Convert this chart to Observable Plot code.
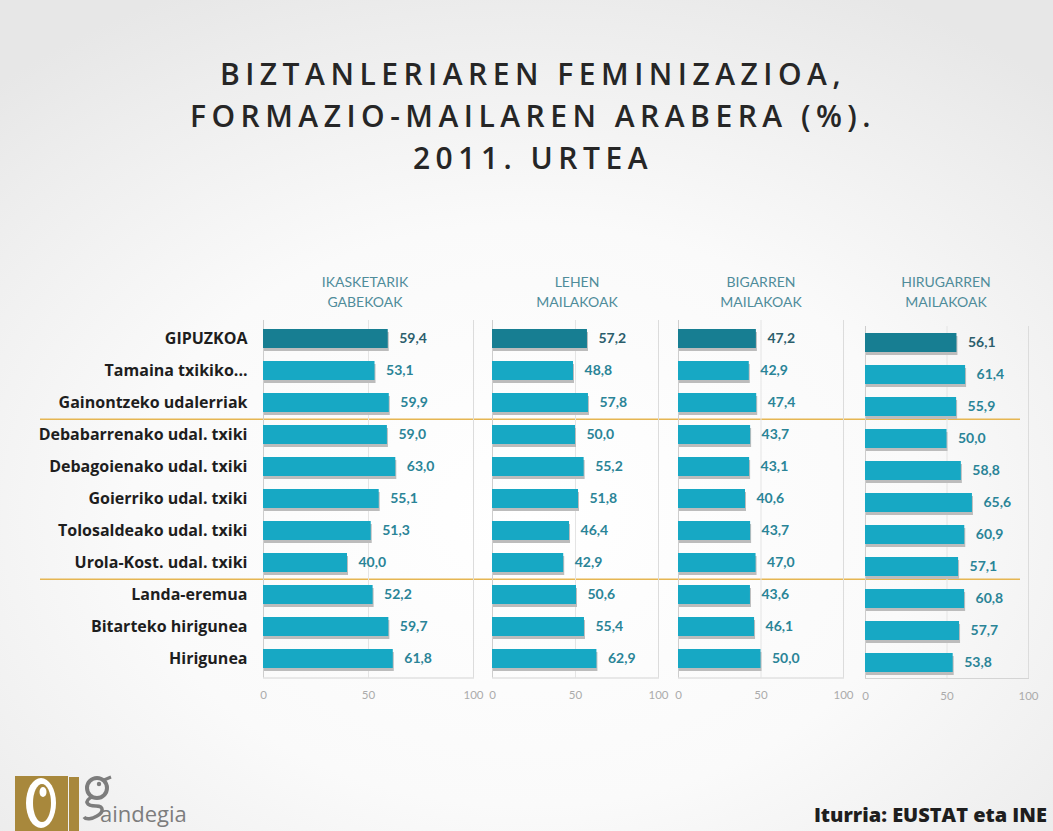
<!DOCTYPE html>
<html>
<head>
<meta charset="utf-8">
<script src="https://cdn.jsdelivr.net/npm/d3@7"></script>
<script src="https://cdn.jsdelivr.net/npm/@observablehq/plot@0.6"></script>
<style>
  html, body { margin: 0; padding: 0; }
  body { width: 1053px; height: 831px; overflow: hidden; }
  #wrap {
    position: relative; width: 1053px; height: 831px; overflow: hidden;
    background: radial-gradient(ellipse 75% 70% at 50% 62%, #ffffff 0%, #fafafa 50%, #ededed 85%, #e7e7e7 100%);
    font-family: "Open Sans", sans-serif;
  }
  #title {
    position: absolute; left: 0; width: 1066px; top: 53px; text-align: center;
    font-family: "Open Sans", sans-serif; font-size: 30px; font-weight: 600;
    letter-spacing: 5.5px; line-height: 42px; color: #262626;
  }
  .hdr {
    position: absolute; top: 272px; width: 200px; text-align: center;
    font-family: Lato, sans-serif; font-size: 14px; line-height: 20px; color: #4f8c9a;
  }
  .panel { position: absolute; top: 300px; }
  .panel svg { overflow: visible; }
  #source {
    position: absolute; right: 6px; top: 801px;
    font-family: "Open Sans", sans-serif; font-weight: 800; font-size: 20px; color: #1e1e1e;
  }
  #logo { position: absolute; left: 0; top: 760px; }
</style>
</head>
<body>
<div id="wrap">
  <div id="title"></div>
  <div id="headers"></div>
  <div id="panels"></div>
  <svg id="logo" width="260" height="71">
    <rect x="15" y="16" width="53" height="55" fill="#a8883c"/>
    <ellipse cx="41" cy="43" rx="15" ry="25" fill="#ffffff"/>
    <ellipse cx="42" cy="43" rx="9" ry="19" fill="#a8883c"/>
    <ellipse cx="43" cy="32" rx="3.5" ry="5" fill="#ffffff"/>
    <rect x="69" y="17" width="10" height="54" fill="#a8883c"/>
    <!-- stylised "g" glyph of the logo -->
    <ellipse cx="97" cy="28" rx="10" ry="10" fill="none" stroke="#7d7d7d" stroke-width="4"/>
    <circle cx="99" cy="24" r="2.2" fill="#7d7d7d"/>
    <path d="M104 20 L111 17" stroke="#7d7d7d" stroke-width="3" fill="none"/>
    <path d="M92 37 C84 41, 86 46, 96 46 C104 46, 104 52, 97 56 C92 59, 86 60, 84 57" stroke="#7d7d7d" stroke-width="3.5" fill="none"/>
    <text x="100" y="62" font-family="Open Sans, sans-serif" font-size="22" fill="#7d7d7d">aindegia</text>
  </svg>
  <div id="source">Iturria: EUSTAT eta INE</div>
</div>
<script>
// ---- data ----
const titleLines = ["BIZTANLERIAREN FEMINIZAZIOA,", "FORMAZIO-MAILAREN ARABERA (%).", "2011. URTEA"];
const categories = [
  "GIPUZKOA", "Tamaina txikiko...", "Gainontzeko udalerriak",
  "Debabarrenako udal. txiki", "Debagoienako udal. txiki", "Goierriko udal. txiki",
  "Tolosaldeako udal. txiki", "Urola-Kost. udal. txiki",
  "Landa-eremua", "Bitarteko hirigunea", "Hirigunea"
];
const levelHeaders = [
  ["IKASKETARIK", "GABEKOAK"],
  ["LEHEN", "MAILAKOAK"],
  ["BIGARREN", "MAILAKOAK"],
  ["HIRUGARREN", "MAILAKOAK"]
];
const ikasketarikGabekoak = [59.4, 53.1, 59.9, 59.0, 63.0, 55.1, 51.3, 40.0, 52.2, 59.7, 61.8];
const lehenMailakoak      = [57.2, 48.8, 57.8, 50.0, 55.2, 51.8, 46.4, 42.9, 50.6, 55.4, 62.9];
const bigarrenMailakoak   = [47.2, 42.9, 47.4, 43.7, 43.1, 40.6, 43.7, 47.0, 43.6, 46.1, 50.0];
const hirugarrenMailakoak = [56.1, 61.4, 55.9, 50.0, 58.8, 65.6, 60.9, 57.1, 60.8, 57.7, 53.8];
const separatorsBefore = ["Debabarrenako udal. txiki", "Landa-eremua"];
const xTicks = [0, 50, 100];

// ---- layout (styles only) ----
const panelsCfg = [
  {values: ikasketarikGabekoak, left: 0,   ml: 263, pw: 210, mr: 45, mt: 20, mb: 42.5, showY: true,  hdrX: 365},
  {values: lehenMailakoak,      left: 482, ml: 10,  pw: 166, mr: 45, mt: 20, mb: 42.5, showY: false, hdrX: 577},
  {values: bigarrenMailakoak,   left: 668, ml: 10,  pw: 165, mr: 45, mt: 20, mb: 42.5, showY: false, hdrX: 761},
  {values: hirugarrenMailakoak, left: 855, ml: 10,  pw: 163, mr: 25, mt: 26, mb: 42,   showY: false, hdrX: 946}
];
const panelH = 420;
const fmt = v => v.toFixed(1).replace(".", ",");

document.getElementById("title").innerHTML = titleLines.join("<br>");

const hdrs = document.getElementById("headers");
panelsCfg.forEach((p, i) => {
  const d = document.createElement("div");
  d.className = "hdr";
  d.style.left = (p.hdrX - 100) + "px";
  d.innerHTML = levelHeaders[i].join("<br>");
  hdrs.appendChild(d);
});

const panelsDiv = document.getElementById("panels");

// separator lines across all panels
{
  const sep = Plot.plot({
    width: 1053, height: panelH,
    marginLeft: 40, marginRight: 33, marginTop: 20, marginBottom: 42.5,
    style: {background: "transparent"},
    x: {domain: [0, 1], axis: null},
    y: {type: "point", domain: categories, padding: 0.5, axis: null},
    marks: [
      Plot.ruleY(separatorsBefore, {stroke: "#e6b652", strokeWidth: 1.6, dy: -357.5 / 22})
    ]
  });
  const w = document.createElement("div");
  w.className = "panel"; w.style.left = "0px";
  w.appendChild(sep);
  panelsDiv.appendChild(w);
}

panelsCfg.forEach((p, i) => {
  const data = categories.map((c, k) => ({cat: c, v: p.values[k], top: k === 0}));
  const marks = [
    Plot.ruleX([50], {stroke: "#e4e4e4"}),
    Plot.ruleX([100], {stroke: "#dcdcdc"}),
    Plot.ruleX([0], {stroke: "#cdcdcd"}),
    Plot.frame({anchor: "bottom", stroke: "#d4d4d4"}),
    Plot.axisX({ticks: xTicks, tickSize: 0, tickPadding: 13, fontSize: 11.5, fill: "#ababab", tickFormat: d => String(d), fontFamily: "Lato", label: null}),
    Plot.barX(data, {x: "v", y: "cat", fill: "#bcbcbc", dy: 3, dx: 1}),
    Plot.barX(data, {x: "v", y: "cat", fill: d => d.top ? "#177e92" : "#17a8c4"}),
    Plot.text(data, {
      x: "v", y: "cat", text: d => fmt(d.v), dx: 11, textAnchor: "start",
      fill: d => d.top ? "#2b5e6c" : "#2a8497", fontWeight: "bold", fontSize: 14, fontFamily: "Lato"
    })
  ];
  if (p.showY) {
    marks.push(Plot.axisY({tickSize: 0, tickPadding: 16, fontSize: 16, fontWeight: "bold", fill: "#1e1e1e", fontFamily: "Open Sans", label: null}));
  }
  const chart = Plot.plot({
    width: p.ml + p.pw + p.mr,
    height: panelH,
    marginLeft: p.ml, marginRight: p.mr, marginTop: p.mt, marginBottom: p.mb,
    style: {background: "transparent", overflow: "visible"},
    x: {domain: [0, 100]},
    y: {domain: categories, paddingInner: 0.42, paddingOuter: 0.21, axis: p.showY ? undefined : null},
    color: {type: "identity"},
    marks
  });
  const w = document.createElement("div");
  w.className = "panel"; w.style.left = p.left + "px";
  w.appendChild(chart);
  panelsDiv.appendChild(w);
});
</script>
</body>
</html>
